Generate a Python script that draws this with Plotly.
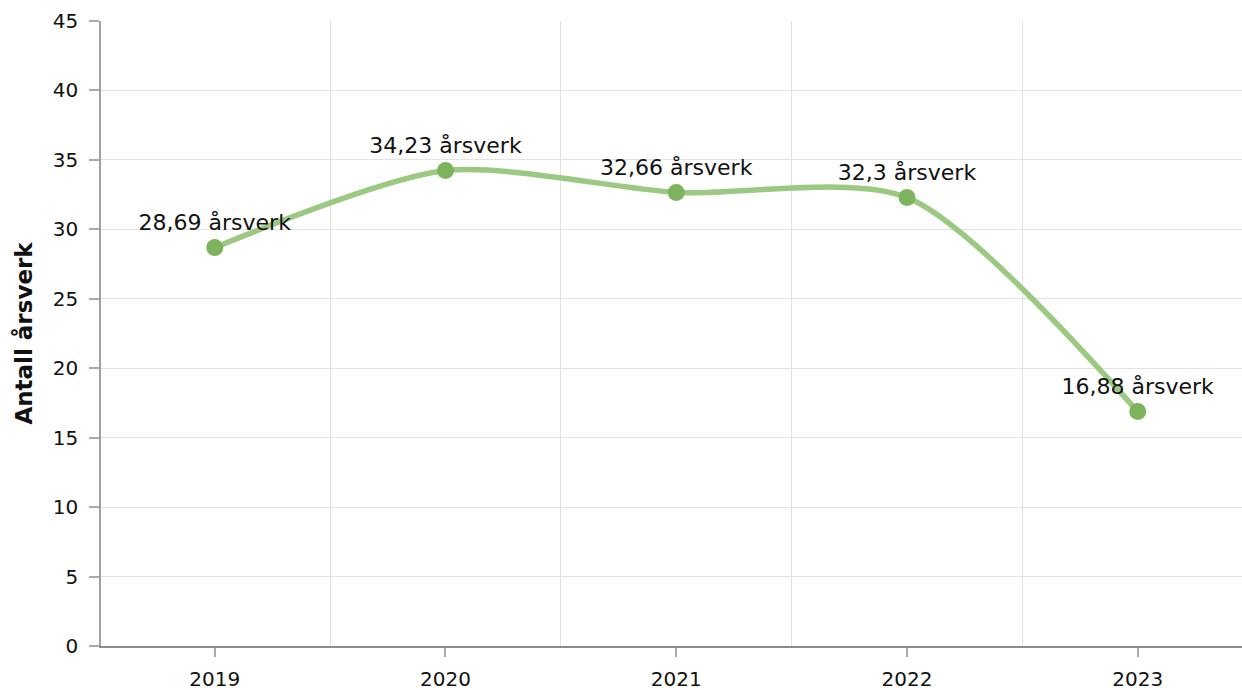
import plotly.graph_objects as go

years = ["2019", "2020", "2021", "2022", "2023"]
values = [28.69, 34.23, 32.66, 32.3, 16.88]
labels = ["28,69 årsverk", "34,23 årsverk", "32,66 årsverk", "32,3 årsverk", "16,88 årsverk"]
y_ticks = [0, 5, 10, 15, 20, 25, 30, 35, 40, 45]

xi = list(range(len(years)))
FONT = "DejaVu Sans, Verdana, sans-serif"

fig = go.Figure()
fig.add_trace(go.Scatter(
    x=xi, y=values, mode="lines+markers+text",
    line=dict(color="#9cc982", width=5.5, shape="spline", smoothing=0.75),
    marker=dict(color="#7db35c", size=17),
    text=labels, textposition="top center",
    textfont=dict(family=FONT, size=22, color="#111111"),
    cliponaxis=False, hoverinfo="skip", showlegend=False,
))

fig.update_layout(
    width=1242, height=690,
    margin=dict(l=101, r=0, t=21, b=44, autoexpand=False),
    paper_bgcolor="white", plot_bgcolor="white",
    font=dict(family=FONT, size=20, color="#111111"),
    xaxis=dict(
        range=[-0.493, 4.452], tickvals=xi, ticktext=years,
        showgrid=False, zeroline=False, automargin=False,
        showline=True, linecolor="#8c8c8c", linewidth=1.5,
        ticks="outside", ticklen=9, tickcolor="#aaaaaa", tickwidth=1.5,
        ticklabelstandoff=5,
        minor=dict(tickvals=[0.5, 1.5, 2.5, 3.5], showgrid=True, gridcolor="#e0e0e0", gridwidth=1, ticks=""),
        tickfont=dict(family=FONT, size=20),
    ),
    yaxis=dict(
        range=[0, 45], tickvals=y_ticks, automargin=False,
        showgrid=True, gridcolor="#e3e3e3", gridwidth=1, zeroline=False,
        showline=True, linecolor="#a0a0a0", linewidth=1.5,
        ticks="outside", ticklen=10, tickcolor="#aaaaaa", tickwidth=1.5,
        ticklabelstandoff=7,
        title=dict(text="<b>Antall årsverk</b>", font=dict(family=FONT, size=23), standoff=14),
        tickfont=dict(family=FONT, size=20),
    ),
)

fig.write_html(
    "out.html",
    config={"displayModeBar": False},
    post_script="document.body.style.margin='0';document.body.style.overflow='hidden';",
)
